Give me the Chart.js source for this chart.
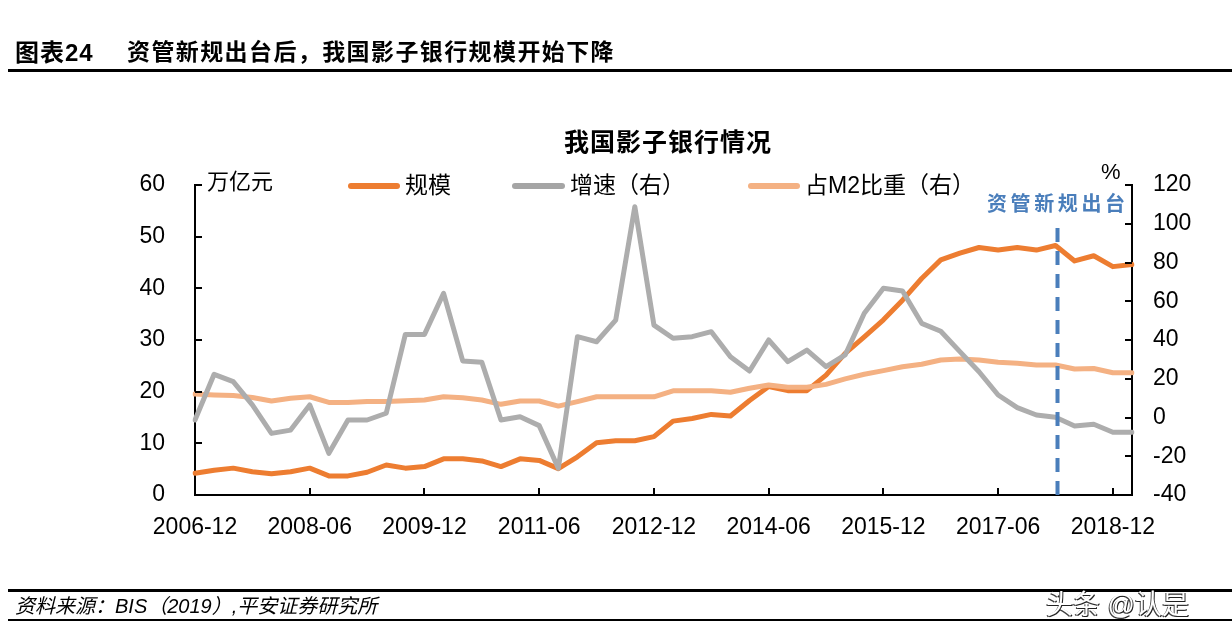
<!DOCTYPE html>
<html>
<head>
<meta charset="utf-8">
<script src="https://cdn.jsdelivr.net/npm/chart.js@4"></script>
<style>
  body { margin: 0; background: #fff; }
  #wrap { position: relative; width: 1232px; height: 644px; overflow: hidden; font-family: "Liberation Sans", "Noto Sans CJK SC", sans-serif; color: #000; }
  #wrap canvas { position: absolute; left: 0; top: 0; }
  .t { position: absolute; line-height: 1; white-space: nowrap; z-index: 2; }
  .rule { position: absolute; background: #000; z-index: 2; }
  .key { position: absolute; height: 6px; border-radius: 3px; z-index: 2; }
</style>
</head>
<body>
<div id="wrap">
  <canvas id="myChart" width="1232" height="644"></canvas>

  <div class="t" style="left:15px; top:41px; font-size:24px; font-weight:bold; letter-spacing:1px;">图表24</div>
  <div class="t" style="left:127px; top:41px; font-size:23px; font-weight:bold; letter-spacing:1.4px;">资管新规出台后，我国影子银行规模开始下降</div>
  <div class="rule" style="left:8px; right:0; top:69px; height:3px;"></div>

  <div class="t" style="left:0; width:1336px; text-align:center; top:130px; font-size:25px; font-weight:bold; letter-spacing:1px;">我国影子银行情况</div>
  <div class="t" style="left:207px; top:171px; font-size:22px;">万亿元</div>
  <div class="t" style="left:1101px; top:161px; font-size:22px;">%</div>

  <div class="key" style="left:348px; top:183px; width:52px; background:#ED7D31;"></div>
  <div class="t" style="left:405px; top:174px; font-size:23px;">规模</div>
  <div class="key" style="left:512px; top:183px; width:53px; background:#A5A5A5;"></div>
  <div class="t" style="left:570px; top:174px; font-size:23px;">增速（右）</div>
  <div class="key" style="left:748px; top:183px; width:52px; background:#F4B183;"></div>
  <div class="t" style="left:805px; top:174px; font-size:23px;">占M2比重（右）</div>

  <div class="t" style="left:987px; top:194px; font-size:20px; font-weight:bold; letter-spacing:3.6px; color:#4A7EBB;">资管新规出台</div>

  <div class="rule" style="left:8px; right:0; top:589px; height:3px;"></div>
  <div class="t" style="left:15px; top:596px; font-size:20px; font-style:italic;">资料来源：BIS（2019）,平安证券研究所</div>
  <div class="rule" style="left:8px; right:0; top:619px; height:2px;"></div>
  <div class="t" style="left:1046px; top:592px; font-size:27px; color:#fff; text-shadow:1px 1px 0 #222, -1px 1px 0 #444;">头条 @认是</div>
</div>

<script>
// quarterly, 2006-12 .. 2019-03
const quarters = [
  "2006-12", "2007-03", "2007-06", "2007-09", "2007-12", "2008-03", "2008-06", "2008-09", "2008-12", "2009-03",
  "2009-06", "2009-09", "2009-12", "2010-03", "2010-06", "2010-09", "2010-12", "2011-03", "2011-06", "2011-09",
  "2011-12", "2012-03", "2012-06", "2012-09", "2012-12", "2013-03", "2013-06", "2013-09", "2013-12", "2014-03",
  "2014-06", "2014-09", "2014-12", "2015-03", "2015-06", "2015-09", "2015-12", "2016-03", "2016-06", "2016-09",
  "2016-12", "2017-03", "2017-06", "2017-09", "2017-12", "2018-03", "2018-06", "2018-09", "2018-12", "2019-03"
];
const tickLabels = ["2006-12", "2008-06", "2009-12", "2011-06", "2012-12", "2014-06", "2015-12", "2017-06", "2018-12"];

// 规模 (万亿元, left axis)
const scaleValues = [
  4.2, 4.8, 5.2, 4.5, 4.1, 4.5, 5.2, 3.7, 3.7, 4.4,
  5.8, 5.2, 5.5, 7.0, 7.0, 6.6, 5.5, 7.0, 6.7, 5.1,
  7.4, 10.1, 10.5, 10.5, 11.3, 14.3, 14.8, 15.6, 15.3, 18.3,
  21.0, 20.2, 20.2, 23.2, 27.4, 30.6, 33.9, 37.7, 41.9, 45.5,
  46.8, 47.9, 47.4, 47.9, 47.4, 48.3, 45.3, 46.3, 44.2, 44.6
];
// 增速 (%, right axis)
const growthValues = [
  -1.3, 22.3, 18.5, 6.5, -8.2, -6.5, 6.5, -18.5, -1.3, -1.3,
  2.2, 42.9, 42.9, 64.1, 29.2, 28.5, -1.3, 0.4, -4.2, -26.2,
  41.7, 39.1, 50.3, 108.8, 47.7, 40.9, 41.7, 44.3, 31.4, 24.0,
  40.0, 28.8, 34.8, 26.2, 32.3, 53.8, 66.7, 65.3, 48.6, 44.5,
  34.0, 23.6, 11.6, 5.1, 1.3, 0.1, -4.4, -3.5, -7.6, -7.6
];
// 占M2比重 (%, right axis)
const m2ShareValues = [
  12.1, 11.6, 11.3, 10.3, 8.5, 9.9, 10.7, 7.8, 7.8, 8.2,
  8.2, 8.7, 9.0, 10.7, 10.2, 9.0, 6.8, 8.5, 8.5, 5.9,
  8.2, 10.7, 10.7, 10.7, 10.7, 13.8, 13.8, 13.8, 13.0, 15.1,
  16.8, 15.6, 15.6, 17.1, 19.9, 22.3, 24.2, 26.2, 27.5, 29.7,
  30.2, 29.7, 28.5, 28.0, 27.1, 27.1, 25.0, 25.3, 23.1, 23.1
];
const policyQuarter = "2018-03"; // 资管新规出台

const tickFont = { family: "Liberation Sans", size: 23 };

// inward tick marks + the dashed policy line
const axisExtras = {
  id: "axisExtras",
  afterDraw: chart => {
    const ctx = chart.ctx;
    const { left, right, bottom } = chart.chartArea;
    const x = chart.scales.x, y = chart.scales.y, y1 = chart.scales.y1;

    ctx.save();
    ctx.strokeStyle = "#000";
    ctx.lineWidth = 2;
    ctx.beginPath();
    y.ticks.forEach(t => {
      const py = Math.round(y.getPixelForValue(t.value));
      ctx.moveTo(left, py);
      ctx.lineTo(left + 7, py);
    });
    y1.ticks.forEach(t => {
      const py = Math.round(y1.getPixelForValue(t.value));
      ctx.moveTo(right, py);
      ctx.lineTo(right - 7, py);
    });
    tickLabels.forEach(lbl => {
      const px = Math.round(x.getPixelForValue(quarters.indexOf(lbl)));
      ctx.moveTo(px, bottom);
      ctx.lineTo(px, bottom - 7);
    });
    ctx.stroke();

    const lx = x.getPixelForValue(quarters.indexOf(policyQuarter)) + 2;
    ctx.strokeStyle = "#4A7EBB";
    ctx.lineWidth = 4;
    ctx.setLineDash([14, 9]);
    ctx.beginPath();
    ctx.moveTo(lx, 228);
    ctx.lineTo(lx, bottom);
    ctx.stroke();
    ctx.restore();
  }
};

const ctx = document.getElementById("myChart").getContext("2d");
const myChart = new Chart(ctx, {
  type: "line",
  plugins: [axisExtras],
  data: {
    labels: quarters,
    datasets: [
      {
        label: "增速（右）",
        data: growthValues,
        yAxisID: "y1",
        borderColor: "#ADADAD",
        borderWidth: 5
      },
      {
        label: "占M2比重（右）",
        data: m2ShareValues,
        yAxisID: "y1",
        borderColor: "#F4B183",
        borderWidth: 5
      },
      {
        label: "规模",
        data: scaleValues,
        yAxisID: "y",
        borderColor: "#ED7D31",
        borderWidth: 5
      }
    ]
  },
  options: {
    responsive: false,
    animation: false,
    devicePixelRatio: 1,
    elements: {
      point: { radius: 0 },
      line: { tension: 0, borderJoinStyle: "round", borderCapStyle: "round" }
    },
    layout: { padding: { top: 185, left: 0, right: 0, bottom: 0 } },
    plugins: {
      legend: { display: false },
      title: { display: false },
      tooltip: { enabled: false }
    },
    scales: {
      x: {
        type: "category",
        offset: false,
        grid: { display: false },
        border: { display: true, color: "#000", width: 2 },
        ticks: {
          autoSkip: false,
          maxRotation: 0,
          minRotation: 0,
          padding: 11,
          color: "#000",
          font: tickFont,
          callback: function (value, index) {
            const lbl = quarters[index];
            return tickLabels.includes(lbl) ? lbl : "";
          }
        },
        afterFit: s => { s.height = 149; }
      },
      y: {
        position: "left",
        min: 0,
        max: 60,
        grid: { display: false },
        border: { display: true, color: "#000", width: 2 },
        ticks: { stepSize: 10, padding: 22, color: "#000", font: tickFont },
        afterFit: s => { s.width = 195; }
      },
      y1: {
        position: "right",
        min: -40,
        max: 120,
        grid: { display: false },
        border: { display: true, color: "#000", width: 2 },
        ticks: { stepSize: 20, padding: 13, color: "#000", font: tickFont },
        afterFit: s => { s.width = 100; }
      }
    }
  }
});
</script>
</body>
</html>
